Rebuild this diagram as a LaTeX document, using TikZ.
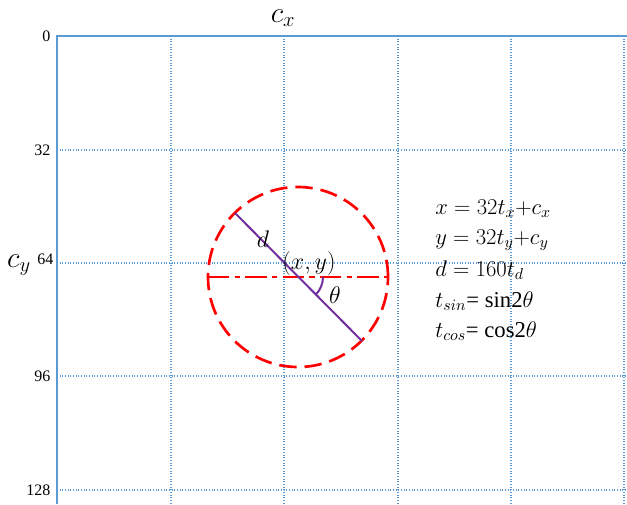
\RequirePackage{fix-cm}
\documentclass[tikz,border=0pt]{standalone}
\usepackage{amsmath}
\usepackage{fontspec}
\setmainfont{Liberation Serif}
\usepackage{tikz}
\usepackage{xcolor}
\definecolor{axisblue}{RGB}{91,155,213}
\definecolor{ringred}{RGB}{255,0,0}
\definecolor{diampurple}{RGB}{112,48,160}

\begin{document}
\begin{tikzpicture}[x=0.75pt,y=-0.75pt,
		gridline/.style={axisblue, line width=0.8pt, dash pattern=on 0.8pt off 1.2pt},
		axisline/.style={axisblue, line width=2.2pt},
		ticklabel/.style={font=\fontsize{12}{14}\selectfont, anchor=east, inner sep=1pt},
		axislabel/.style={font=\fontsize{22}{24}\selectfont, inner sep=0pt},
		circlabel/.style={font=\fontsize{18}{20}\selectfont},
		formula/.style={font=\fontsize{17}{20}\selectfont, anchor=base west, inner sep=0pt}]
			\useasboundingbox (0,0) rectangle (627,504);
			
			% grid
			\draw[gridline] (171,36) -- (171,504);
			\draw[gridline] (284,36) -- (284,504);
			\draw[gridline] (398,36) -- (398,504);
			\draw[gridline] (511,36) -- (511,504);
			\draw[gridline] (624,36) -- (624,504);
			\draw[gridline] (57,150) -- (627,150);
			\draw[gridline] (57,263) -- (627,263);
			\draw[gridline] (57,376) -- (627,376);
			\draw[gridline] (57,490) -- (627,490);
			
			% axes
			\draw[axisline] (627,36) -- (57,36) -- (57,504);
			\node[axislabel] (cx) at (283,18) {$c_x$};
			\node[axislabel] (cy) at (19,265) {$c_y$};
			
			\node[ticklabel] (lab0) at (52,36) {0};
			\node[ticklabel] (lab32) at (52,150) {32};
			\node[ticklabel] (lab64) at (55,259) {64};
			\node[ticklabel] (lab96) at (52,376) {96};
			\node[ticklabel] (lab128) at (52,490) {128};
			
			% circle and diameter
			\coordinate (ctr) at (298,277);
			\coordinate (dtop) at (235,213);
			\coordinate (dbot) at (362,341);
			\coordinate (hleft) at (208,277);
			\coordinate (hright) at (388,277);
			\draw[ringred, line width=2pt, dash pattern=on 13pt off 6pt] (ctr) circle[radius=67.5pt];
			\draw[ringred, line width=1.6pt, dash pattern=on 16pt off 4pt on 4pt off 4pt] (hleft) -- (hright);
			\draw[diampurple, line width=1.5pt] (dtop) -- (dbot);
			\draw[diampurple, line width=1.5pt] (ctr) ++(25,0) arc[start angle=0, end angle=45, radius=25];
			
			\node[circlabel] (dlab) at (263,239) {$d$};
			\node[circlabel] (xylab) at (309,263) {$(x, y)$};
			\node[circlabel] (thlab) at (335,295) {$\theta$};
			
			% formulas
			\node[formula] (eqx) at (435,214) {$x = 32t_x{+}c_x$};
			\node[formula] (eqy) at (435,244) {$y = 32t_y{+}c_y$};
			\node[formula] (eqd) at (435,276) {$d = 160t_d$};
			\node[formula] (eqsin) at (435,307) {$t_{sin}$= sin2$\theta$};
			\node[formula] (eqcos) at (435,337) {$t_{cos}$= cos2$\theta$};
		\end{tikzpicture}
\end{document}
